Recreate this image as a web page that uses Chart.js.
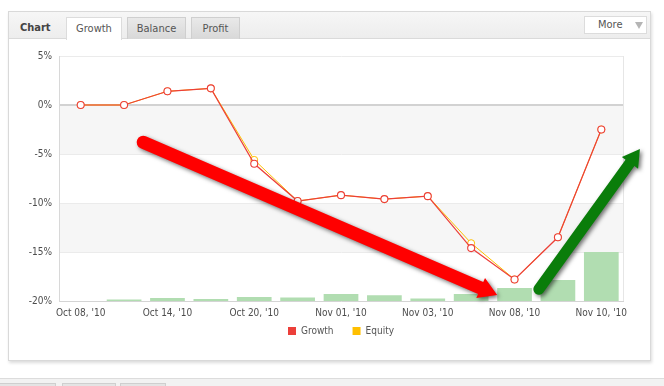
<!DOCTYPE html>
<html><head><meta charset="utf-8">
<script src="https://cdn.jsdelivr.net/npm/chart.js@4/dist/chart.umd.min.js"></script>
<style>
html,body{margin:0;padding:0;background:#fff;width:664px;height:386px;overflow:hidden;font-family:"DejaVu Sans Condensed","DejaVu Sans",sans-serif;color:#444;}
.abs{position:absolute;box-sizing:border-box;}
#card{left:8px;top:11px;width:643px;height:350px;border:1px solid #d9d9d9;background:#fff;box-shadow:1px 2px 3px rgba(0,0,0,.14);}
#hdr{left:9px;top:12px;width:641px;height:27px;background:linear-gradient(#f6f6f6,#ededed);border-bottom:1px solid #dadada;}
.title{left:20px;top:21px;font-size:11px;font-weight:bold;color:#444;}
.tab{top:17px;height:22px;font-size:11px;color:#555;text-align:center;line-height:21px;border:1px solid #cfcfcf;border-bottom:none;background:linear-gradient(#e9e9e9,#d8d8d8);}
.tab.on{background:#fff;border-color:#dcdcdc;height:23px;}
#more{left:584px;top:16px;width:63px;height:18px;border:1px solid #dcdcdc;background:#fff;font-size:11px;color:#555;line-height:16px;padding-left:13px;}
#more .tri{position:absolute;left:50px;top:5px;width:0;height:0;border-left:4px solid transparent;border-right:4px solid transparent;border-top:7px solid #b5b5b5;}
#wrap{left:9px;top:39px;width:640px;height:320px;}
#bot{left:0;top:378px;width:664px;height:8px;background:#f2f2f2;border-top:1px solid #dcdcdc;}
.btab{top:383px;height:4px;border:1px solid #cfcfcf;border-bottom:none;background:#e4e4e4;}
</style></head>
<body>
<div id="card" class="abs"></div>
<div id="hdr" class="abs"></div>
<div class="abs title">Chart</div>
<div class="abs tab on" style="left:66px;width:56px;">Growth</div>
<div class="abs tab" style="left:127px;width:59px;">Balance</div>
<div class="abs tab" style="left:191px;width:49px;">Profit</div>
<div id="more" class="abs">More<span class="tri"></span></div>
<div id="wrap" class="abs"><canvas id="c" width="640" height="320"></canvas></div>
<div id="bot" class="abs"></div>
<div class="abs btab" style="left:-1px;width:57px;"></div>
<div class="abs btab" style="left:62px;width:54px;"></div>
<div class="abs btab" style="left:120px;width:46px;"></div>
<script>
const categories = ["Oct 08, '10","Oct 11, '10","Oct 14, '10","Oct 18, '10","Oct 20, '10","Oct 27, '10","Nov 01, '10","Nov 02, '10","Nov 03, '10","Nov 05, '10","Nov 08, '10","Nov 09, '10","Nov 10, '10"];
const growth = [0, 0, 1.4, 1.7, -6.0, -9.8, -9.2, -9.6, -9.3, -14.6, -17.8, -13.5, -2.5];
const equity = [0, 0, 1.4, 1.7, -5.6, -9.8, -9.2, -9.6, -9.3, -14.1, -17.8, -13.5, -2.5];
const volume = [0, 0.6, 1.2, 0.8, 1.6, 1.4, 2.9, 2.3, 1.0, 2.9, 5.3, 8.6, 20.0];
const yTicks = [5, 0, -5, -10, -15, -20];
// annotation arrows in data space: [categoryIndex, value]
const redArrow = [[1.44, -3.8], [9.6, -19.4]];
const greenArrow = [[10.56, -18.8], [12.89, -4.5]];

const FONT = '"DejaVu Sans Condensed","DejaVu Sans",sans-serif';

const bands = {
  id: 'bands',
  beforeDraw(chart) {
    const {ctx, chartArea: a, scales: {y}} = chart;
    ctx.save();
    ctx.fillStyle = '#f6f6f6';
    [[0, -5], [-10, -15]].forEach(([t, b]) => {
      const y1 = y.getPixelForValue(t), y2 = y.getPixelForValue(b);
      ctx.fillRect(a.left, y1, a.right - a.left, y2 - y1);
    });
    ctx.strokeStyle = '#e6e6e6';
    ctx.lineWidth = 1;
    ctx.beginPath();
    ctx.moveTo(a.right + 0.5, a.top);
    ctx.lineTo(a.right + 0.5, a.bottom);
    ctx.stroke();
    ctx.restore();
  }
};

const legendShift = {
  id: 'legendShift',
  afterLayout(chart) {
    const l = chart.legend;
    if (l) { l.top -= 12; l.bottom -= 12; l.left += 25; l.right += 25; }
  }
};

function drawArrow(ctx, x, y, p0, p1, color, w, hl, hw) {
  const x0 = x.getPixelForValue(p0[0]), y0 = y.getPixelForValue(p0[1]);
  const x1 = x.getPixelForValue(p1[0]), y1 = y.getPixelForValue(p1[1]);
  const dx = x1 - x0, dy = y1 - y0, L = Math.hypot(dx, dy);
  const ux = dx / L, uy = dy / L, px = -uy, py = ux;
  const bx = x1 - ux * hl, by = y1 - uy * hl;
  ctx.save();
  ctx.shadowColor = 'rgba(0,0,0,0.55)';
  ctx.shadowBlur = 4;
  ctx.shadowOffsetX = 2;
  ctx.shadowOffsetY = 2;
  ctx.fillStyle = color;
  ctx.beginPath();
  ctx.moveTo(x0 + px * w / 2, y0 + py * w / 2);
  ctx.arc(x0, y0, w / 2, Math.atan2(py, px), Math.atan2(py, px) + Math.PI, false);
  ctx.lineTo(bx - px * w / 2, by - py * w / 2);
  ctx.lineTo(bx - px * hw, by - py * hw);
  ctx.lineTo(x1, y1);
  ctx.lineTo(bx + px * hw, by + py * hw);
  ctx.lineTo(bx + px * w / 2, by + py * w / 2);
  ctx.closePath();
  ctx.fill();
  ctx.restore();
}

const arrows = {
  id: 'arrows',
  afterDraw(chart) {
    const {ctx, scales: {x, y}} = chart;
    drawArrow(ctx, x, y, redArrow[0], redArrow[1], '#ff0000', 13, 18, 11);
    drawArrow(ctx, x, y, greenArrow[0], greenArrow[1], '#0a7d0a', 11, 17, 10);
  }
};

new Chart(document.getElementById('c'), {
  data: {
    labels: categories,
    datasets: [
      {type: 'line', label: 'Growth', data: growth, borderColor: '#ec3f3a', backgroundColor: '#ec3f3a', borderWidth: 1.2,
       pointRadius: 3.5, pointBackgroundColor: '#fff', pointBorderColor: '#ec3f3a', pointBorderWidth: 1.1, tension: 0, order: 0, yAxisID: 'y'},
      {type: 'line', label: 'Equity', data: equity, borderColor: '#ffbf00', backgroundColor: '#ffbf00', borderWidth: 1,
       pointRadius: 3.5, pointBackgroundColor: '#fff', pointBorderColor: '#ffbf00', pointBorderWidth: 1, tension: 0, order: 1, yAxisID: 'y'},
      {type: 'bar', label: 'Volume', data: volume, backgroundColor: '#b1ddb1', borderWidth: 0,
       barPercentage: 0.8, categoryPercentage: 1.0, order: 2, yAxisID: 'y1'}
    ]
  },
  options: {
    responsive: false,
    animation: false,
    layout: {padding: {top: 17, right: 26, left: 0, bottom: 1}},
    plugins: {
      tooltip: {enabled: false},
      legend: {
        position: 'bottom',
        labels: {
          boxWidth: 8, boxHeight: 8, padding: 19,
          color: '#555', font: {family: FONT, size: 10},
          generateLabels(chart) {
            return chart.data.datasets.filter(d => d.type === 'line').map((d, i) => ({
              text: d.label, fillStyle: d.borderColor, strokeStyle: d.borderColor, lineWidth: 0,
              fontColor: '#555', datasetIndex: i, hidden: false
            }));
          }
        }
      }
    },
    scales: {
      x: {
        type: 'category',
        offset: true,
        grid: {display: false, drawTicks: false},
        border: {color: '#d4d4d4'},
        ticks: {autoSkip: false, maxRotation: 0, padding: 6, color: '#4d4d4d', font: {family: FONT, size: 10},
          callback: function(v, i) { return i % 2 === 0 ? this.getLabelForValue(v) : ''; }},
        afterFit(s) { s.height = 18; }
      },
      y: {
        min: -20, max: 5,
        afterBuildTicks(s) { s.ticks = yTicks.map(v => ({value: v})); },
        border: {color: '#d8d8d8'},
        grid: {
          drawTicks: false,
          color: (c) => c.tick && c.tick.value === 0 ? '#d2d2d2' : '#ebebeb',
          lineWidth: (c) => c.tick && c.tick.value === 0 ? 2 : 1
        },
        ticks: {padding: 7, color: '#4d4d4d', font: {family: FONT, size: 10}, callback: (v) => v + '%'},
        afterFit(s) { s.width = 50; }
      },
      y1: {display: false, min: 0, max: 100}
    }
  },
  plugins: [bands, legendShift, arrows]
});
</script>
</body></html>
